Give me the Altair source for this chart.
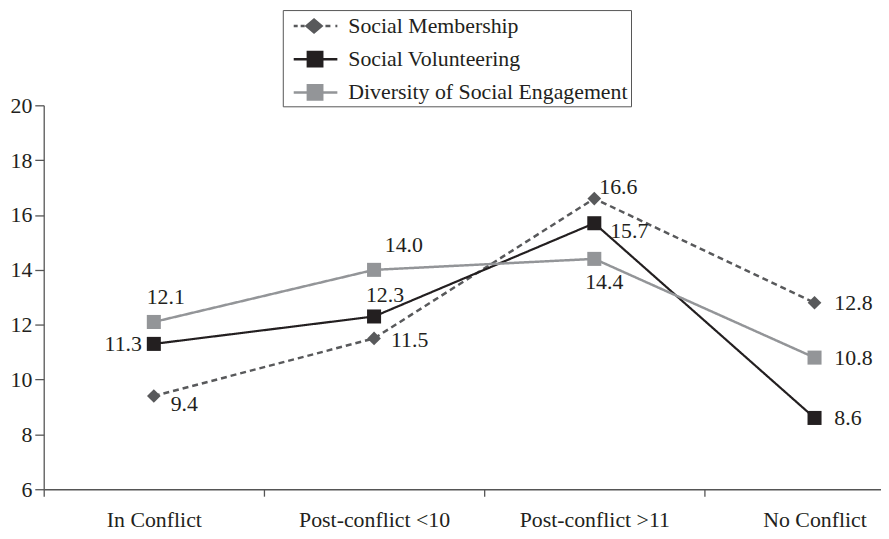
import altair as alt
import pandas as pd

# ---- data ----
categories = ["In Conflict", "Post-conflict <10", "Post-conflict >11", "No Conflict"]
series_names = ["Social Membership", "Social Volunteering", "Diversity of Social Engagement"]
social_membership = [9.4, 11.5, 16.6, 12.8]
social_volunteering = [11.3, 12.3, 15.7, 8.6]
diversity_engagement = [12.1, 14.0, 14.4, 10.8]
y_ticks = [6, 8, 10, 12, 14, 16, 18, 20]

rows = []
for s, vals in zip(series_names, [social_membership, social_volunteering, diversity_engagement]):
    for c, v in zip(categories, vals):
        rows.append({"series": s, "category": c, "value": v})
df = pd.DataFrame(rows)

# ---- styling ----
FONT = "Liberation Serif"
TEXT = "#231f20"
AXIS = "#555555"
colors = ["#58595b", "#231f20", "#939598"]
line_dash = [[6, 4], [1, 0], [1, 0]]
line_width = [2.5, 2.2, 2.5]

# label placement (align, dx, dy) per series / category index
label_place = {
    ("Social Membership", 0): ("left", 17, 8),
    ("Social Membership", 1): ("left", 17, 2),
    ("Social Membership", 2): ("left", 5, -12),
    ("Social Membership", 3): ("left", 20, 0),
    ("Social Volunteering", 0): ("right", -12, 0),
    ("Social Volunteering", 1): ("center", 11, -22),
    ("Social Volunteering", 2): ("left", 16, 8),
    ("Social Volunteering", 3): ("left", 20, 0),
    ("Diversity of Social Engagement", 0): ("center", 12, -25),
    ("Diversity of Social Engagement", 1): ("center", 30, -25),
    ("Diversity of Social Engagement", 2): ("center", 10, 23),
    ("Diversity of Social Engagement", 3): ("left", 20, 0),
}

# legend symbols: line + marker drawn as one filled path (unit = sqrt(symbolSize)/2)
SH = 0.154
def rect(x0, x1, h):
    return f"M{x0 + SH:.3f},{-h}H{x1 + SH:.3f}V{h}H{x0 + SH:.3f}Z"

def diamond(cx, hw, hh):
    cx += SH
    return f"M{cx - hw:.3f},0L{cx:.3f},{-hh}L{cx + hw:.3f},0L{cx:.3f},{hh}Z"

sym_membership = (rect(-0.538, -0.231, 0.096) + rect(0.0, 0.308, 0.096)
                  + diamond(1.038, 0.731, 0.615)
                  + rect(1.923, 2.308, 0.096) + rect(2.692, 2.846, 0.096))
sym_square = rect(-0.538, 2.846, 0.096) + rect(0.462, 1.769, 0.654)
legend_paths = [sym_membership, sym_square, sym_square]

x_enc = alt.X(
    "category:N", sort=categories,
    scale=alt.Scale(type="band", paddingInner=0, paddingOuter=0, range=[0, 888]),
    axis=alt.Axis(title=None, labelAngle=0, tickBand="extent", tickSize=7, labelPadding=14),
)
y_enc = alt.Y(
    "value:Q",
    scale=alt.Scale(domain=[6, 20], nice=False, zero=False),
    axis=alt.Axis(title=None, values=y_ticks, tickSize=9, labelPadding=3, grid=False),
)

base = alt.Chart(df)

line_layers = []
marker_layers = []
for s, col, dash, w in zip(series_names, colors, line_dash, line_width):
    sub = base.transform_filter(alt.datum.series == s)
    line_layers.append(
        sub.mark_line(color=col, strokeWidth=w, strokeDash=dash).encode(x=x_enc, y=y_enc)
    )
    if s == series_names[0]:
        m = sub.mark_point(shape="diamond", filled=True, size=190, opacity=1, color=col, strokeWidth=0)
    else:
        m = sub.mark_square(size=200, opacity=1, color=col)
    marker_layers.append(m.encode(x=x_enc, y=y_enc))

text_layers = []
for (s, i), (al, dx, dy) in label_place.items():
    c = categories[i]
    t = base.transform_filter(
        (alt.datum.series == s) & (alt.datum.category == c)
    ).mark_text(
        font=FONT, fontSize=22, color=TEXT, align=al, baseline="middle", dx=dx, dy=dy
    ).encode(x=x_enc, y=y_enc, text=alt.Text("value:Q", format=".1f"))
    text_layers.append(t)

leg = alt.Legend(
    title=None, orient="none", legendX=241, legendY=-96, padding=3,
    strokeColor=AXIS, labelFont=FONT, labelFontSize=22, labelColor=TEXT,
    labelOffset=37, symbolSize=676, symbolStrokeWidth=0, rowPadding=9.5,
    labelLimit=500,
)

legend_layer = base.transform_filter(alt.datum.value < 0).mark_point(filled=True, opacity=1).encode(
    x=x_enc, y=y_enc,
    color=alt.Color("series:N", scale=alt.Scale(domain=series_names, range=colors), legend=leg),
    shape=alt.Shape("series:N", scale=alt.Scale(domain=series_names, range=legend_paths), legend=leg),
)

chart = alt.layer(*line_layers, *marker_layers, *text_layers, legend_layer).properties(
    width=844, height=387,
    autosize=alt.AutoSizeParams(type="none"),
    padding={"left": 36, "top": 96, "right": 0, "bottom": 40},
).configure_view(stroke=None).configure_axis(
    labelFont=FONT, labelFontSize=22, labelColor=TEXT,
    domainColor=AXIS, tickColor=AXIS, domainWidth=1.3, tickWidth=1.3,
)

chart.save("out.html", embed_options={"renderer": "svg", "actions": False})
